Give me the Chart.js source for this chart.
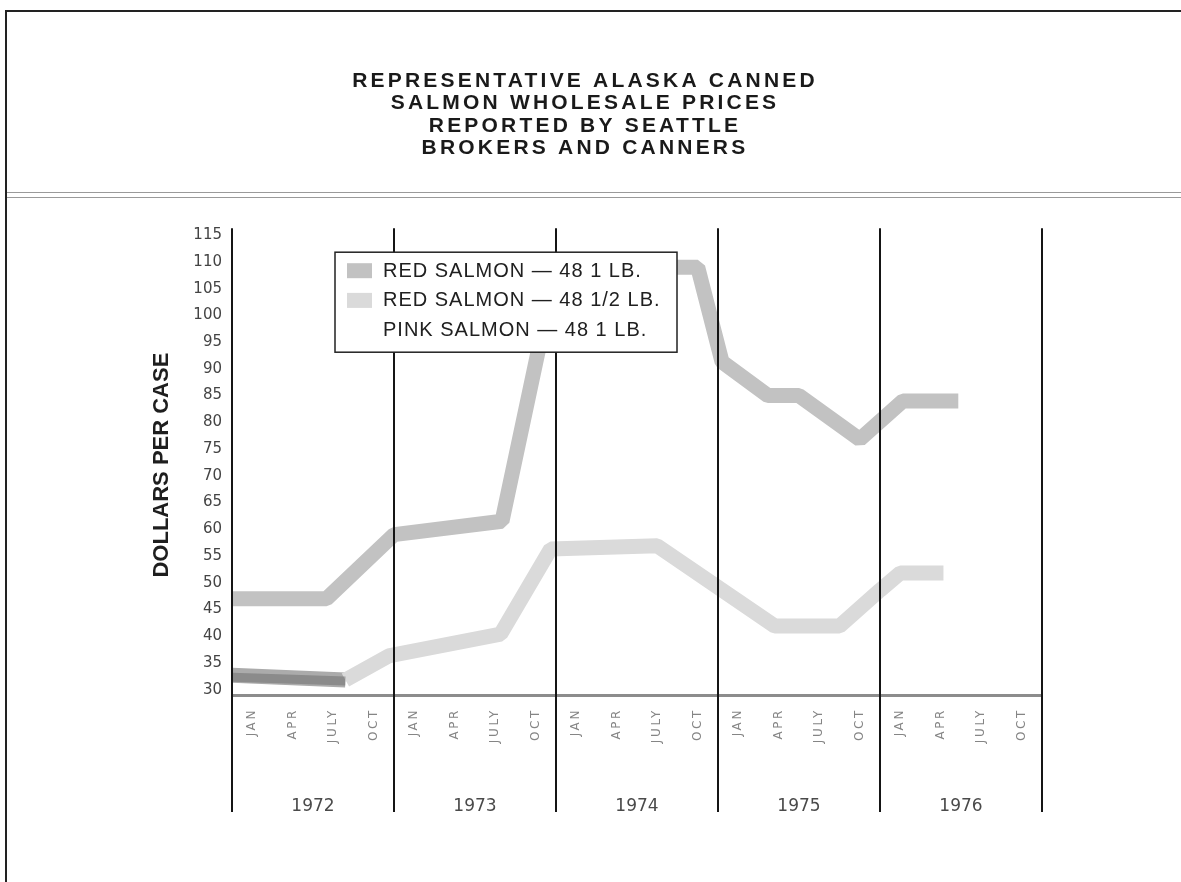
<!DOCTYPE html>
<html><head><meta charset="utf-8">
<script src="https://cdn.jsdelivr.net/npm/chart.js@4.4.1/dist/chart.umd.min.js"></script>
<style>
html,body{margin:0;padding:0;background:#fff;}
#wrap{position:relative;width:1181px;height:882px;overflow:hidden;background:#fff;}
.frame{position:absolute;left:5px;top:10px;width:1200px;height:900px;border-top:2px solid #222;border-left:2px solid #222;}
.sep{position:absolute;left:7px;right:0;height:0;border-top:1px solid #9a9a9a;}
canvas{position:absolute;left:0;top:0;}
</style></head><body>
<div id="wrap">
<div class="frame"></div>
<div class="sep" style="top:192px"></div>
<div class="sep" style="top:197px"></div>
<canvas id="c" width="1181" height="882"></canvas>
</div>
<script>
// ---- text ----
const titleLines = ['REPRESENTATIVE ALASKA CANNED', 'SALMON WHOLESALE PRICES', 'REPORTED BY SEATTLE', 'BROKERS AND CANNERS'];
const yAxisTitle = 'DOLLARS PER CASE';
const monthLabels = ['JAN', 'APR', 'JULY', 'OCT'];
const yearLabels = ['1972', '1973', '1974', '1975', '1976'];
const seriesNames = ['RED SALMON — 48 1 LB.', 'RED SALMON — 48 1/2 LB.', 'PINK SALMON — 48 1 LB.'];

// ---- data (x = months elapsed since 1 Jan 1972, y = dollars per case) ----
const red1Months   = [0, 7, 12, 20, 24, 34.5, 36.3, 39.7, 42, 46.5, 49.7, 53.8];
const red1Prices   = [47, 47, 59, 61.5, 109, 109, 91.3, 85, 85, 76.8, 84, 84];
const redHalfMonths = [0, 8.4, 11.6, 19.9, 23.6, 31.5, 40.2, 45, 48, 49.5, 52.7];
const redHalfPrices = [32.7, 31.8, 36.3, 40.4, 56.3, 56.9, 41.9, 41.9, 48.6, 51.8, 51.8];
const pinkMonths   = [0, 4, 8.4];
const pinkPrices   = [32.3, 32.0, 31.6];

// ---- scale values ----
const yMin = 29, yMax = 115, yStep = 5, yFirstTick = 30;
const monthsPerYear = 12;

const toPts = (xs, ys) => xs.map((x, i) => ({x: x, y: ys[i]}));
const swatchColors = ['#c2c2c2', '#dadada', null];

function withSpacing(obj, method, chart, spacing) {
  if (!obj || obj['_ls_' + method]) return;
  const orig = obj[method].bind(obj);
  obj[method] = function () {
    const ctx = chart.ctx;
    ctx.save();
    ctx.letterSpacing = spacing;
    orig.apply(null, arguments);
    ctx.restore();
  };
  obj['_ls_' + method] = true;
}

const decorPlugin = {
  id: 'decor',
  beforeDraw(chart) {
    withSpacing(chart.titleBlock, 'draw', chart, '3.2px');
    withSpacing(chart.scales.x, 'drawLabels', chart, '2.6px');
  },
  afterDatasetsDraw(chart) {
    const ctx = chart.ctx;
    const xs = chart.scales.x;
    const ca = chart.chartArea;
    const nYears = yearLabels.length;
    // year separators
    ctx.save();
    ctx.strokeStyle = '#151515';
    ctx.lineWidth = 2;
    for (let k = 0; k <= nYears; k++) {
      const px = Math.round(xs.getPixelForValue(k * monthsPerYear));
      ctx.beginPath();
      ctx.moveTo(px, ca.top - 7);
      ctx.lineTo(px, ca.bottom + 117);
      ctx.stroke();
    }
    // year labels
    ctx.fillStyle = '#4a4a4a';
    ctx.font = '17px "DejaVu Sans"';
    ctx.textAlign = 'center';
    ctx.textBaseline = 'middle';
    yearLabels.forEach((lab, k) => {
      ctx.fillText(lab, xs.getPixelForValue(k * monthsPerYear + monthsPerYear / 2), ca.bottom + 112);
    });
    ctx.restore();

    // legend box
    const lx = ca.left + 103, ly = ca.top + 17, lw = 342, lh = 100;
    ctx.save();
    ctx.fillStyle = '#ffffff';
    ctx.fillRect(lx, ly, lw, lh);
    ctx.strokeStyle = '#222';
    ctx.lineWidth = 1.5;
    ctx.strokeRect(lx, ly, lw, lh);
    ctx.font = '20px "Liberation Sans", Arial, sans-serif';
    ctx.letterSpacing = '1px';
    ctx.textAlign = 'left';
    ctx.textBaseline = 'middle';
    chart.data.datasets.forEach((ds, i) => {
      const cy = ly + 19 + i * 29.7;
      if (swatchColors[i]) {
        ctx.fillStyle = swatchColors[i];
        ctx.fillRect(lx + 12, cy - 8, 25, 15);
      }
      ctx.fillStyle = '#202020';
      ctx.fillText(ds.label, lx + 48, cy);
    });
    ctx.restore();
  }
};

new Chart(document.getElementById('c'), {
  type: 'line',
  data: {
    datasets: [
      {
        label: seriesNames[0],
        data: toPts(red1Months, red1Prices),
        borderColor: swatchColors[0],
        borderWidth: 15,
        borderJoinStyle: 'bevel',
        borderCapStyle: 'butt',
        pointRadius: 0,
        tension: 0,
        order: 2
      },
      {
        label: seriesNames[1],
        data: toPts(redHalfMonths, redHalfPrices),
        borderColor: swatchColors[1],
        borderWidth: 15,
        borderJoinStyle: 'bevel',
        borderCapStyle: 'butt',
        pointRadius: 0,
        tension: 0,
        segment: { borderColor: c => c.p0DataIndex === 0 ? '#ababab' : undefined },
        order: 3
      },
      {
        label: seriesNames[2],
        data: toPts(pinkMonths, pinkPrices),
        borderColor: 'rgba(100,100,100,0.45)',
        borderWidth: 9,
        borderJoinStyle: 'bevel',
        pointRadius: 0,
        tension: 0,
        order: 1
      }
    ]
  },
  options: {
    responsive: false,
    animation: false,
    devicePixelRatio: 1,
    layout: { padding: { left: 128, right: 139, top: 0, bottom: 70 } },
    plugins: {
      legend: { display: false },
      tooltip: { enabled: false },
      title: {
        display: true,
        text: titleLines,
        color: '#1a1a1a',
        font: { family: '"Liberation Sans", Arial, sans-serif', size: 21, weight: 'bold', lineHeight: '22.3px' },
        padding: { top: 70, bottom: 76 }
      }
    },
    scales: {
      x: {
        type: 'linear',
        min: 0,
        max: yearLabels.length * monthsPerYear,
        afterBuildTicks(scale) {
          const t = [];
          for (let k = 0; k < yearLabels.length; k++)
            for (let q = 0; q < monthLabels.length; q++)
              t.push({ value: k * monthsPerYear + q * 3 + 1.5 });
          scale.ticks = t;
        },
        afterFit(scale) { scale.height = 117; },
        grid: { display: false, drawTicks: false },
        border: { display: true, color: '#8c8c8c', width: 3 },
        ticks: {
          autoSkip: false,
          minRotation: 90,
          maxRotation: 90,
          padding: 13,
          color: '#858585',
          font: { family: '"DejaVu Sans", sans-serif', size: 12 },
          callback: (v, i) => monthLabels[i % monthLabels.length]
        }
      },
      y: {
        type: 'linear',
        min: yMin,
        max: yMax,
        afterBuildTicks(scale) {
          const t = [];
          for (let v = yFirstTick; v <= yMax; v += yStep) t.push({ value: v });
          scale.ticks = t;
        },
        afterFit(scale) { scale.width = 104; },
        grid: { display: false, drawTicks: false },
        border: { display: false },
        ticks: {
          stepSize: yStep,
          padding: 10,
          color: '#444',
          font: { family: '"DejaVu Sans", sans-serif', size: 15 }
        },
        title: {
          display: true,
          text: yAxisTitle,
          color: '#1e1e1e',
          font: { family: '"Liberation Sans", Arial, sans-serif', size: 22, weight: 'bold', lineHeight: 1.2 },
          padding: { top: 21, bottom: 0 }
        }
      }
    }
  },
  plugins: [decorPlugin]
});
</script>
</body></html>
